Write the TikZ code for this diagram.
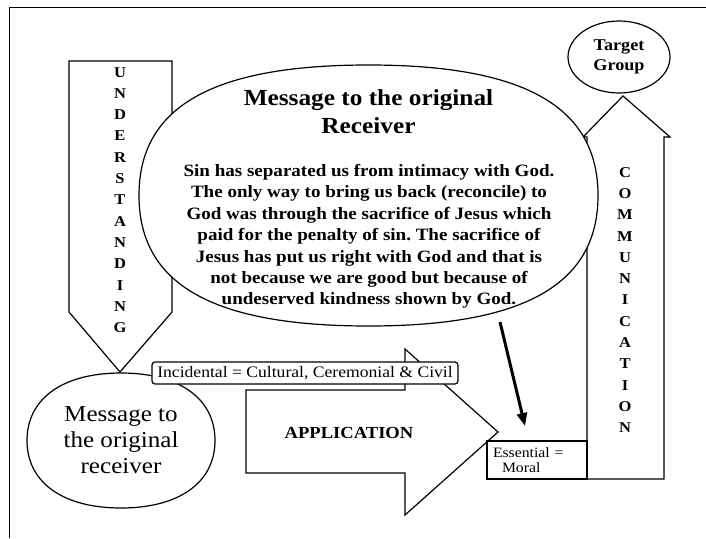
\documentclass[tikz,border=0pt]{standalone}
\usepackage{fontspec}
\setmainfont{Liberation Serif}[FakeStretch=1.1]
\usetikzlibrary{arrows.meta,shapes.geometric}
\tikzset{
  outline/.style={draw,line width=1.2pt,fill=white},
  lettering/.style={align=center,inner sep=0pt,font=\bfseries\fontsize{15}{21.3}\selectfont},
}
\frenchspacing
\begin{document}
\begin{tikzpicture}[x=1pt,y=-1pt]
       \useasboundingbox (0,0) rectangle (706,538);
       \draw [line width=1pt] (9,538) -- (9,7) -- (706,7);
       \draw [outline]
          (69,61) -- (172,61) -- (172,312) -- (120,372) -- (69,312) -- cycle;
       \draw [outline]
          (587,479) -- (587,137) -- (583,137) -- (623,96) -- (670,137)
          -- (664,137) -- (664,479) -- cycle;
       \draw [outline]
          (139,195.5) .. controls (139,106.8) and (212.4,65) .. (368.5,65)
          .. controls (524.6,65) and (598,106.8) .. (598,195.5)
          .. controls (598,284.2) and (524.6,326) .. (368.5,326)
          .. controls (212.4,326) and (139,284.2) .. (139,195.5) -- cycle;
       \draw [outline]
          (27,440.5) .. controls (27,398.6) and (62.7,373) .. (121,373)
          .. controls (179.3,373) and (215,398.6) .. (215,440.5)
          .. controls (215,482.4) and (179.3,508) .. (121,508)
          .. controls (62.7,508) and (27,482.4) .. (27,440.5) -- cycle;
       \draw [outline]
          (246,390) -- (405,390) -- (405,349) -- (498,432) -- (405,515)
          -- (405,473) -- (246,473) -- cycle;
       \node at (619,57) [outline,ellipse,minimum width=102,minimum height=72,inner sep=0pt,
          align=center,font=\bfseries\fontsize{16.5}{20}\selectfont] (target) {Target\\Group};
       \node at (305,373) [outline,rounded corners=3pt,minimum width=306,minimum height=22,
          inner sep=0pt,font=\fontsize{16}{16}\selectfont] (incidental)
          {Incidental = Cultural, Ceremonial \& Civil};
       \node at (537,460) [outline,minimum width=100,minimum height=38,inner xsep=6pt,
          inner ysep=0pt,text width=88,align=left,font=\fontsize{14.3}{15}\selectfont] (essential)
          {Essential =\\\hspace*{9pt}Moral};
       \node at (120,67) [lettering,anchor=north] (understanding)
          {U\\N\\D\\E\\R\\S\\T\\A\\N\\D\\I\\N\\G};
       \node at (625,167) [lettering,anchor=north] (communication)
          {C\\O\\M\\M\\U\\N\\I\\C\\A\\T\\I\\O\\N};
       \node at (368.5,89.3) [anchor=north,inner sep=0pt,align=center,
          font=\bfseries\fontsize{23}{28}\selectfont] (title)
          {Message to the original\\Receiver};
       \node at (369,164.2) [anchor=north,inner sep=0pt,align=center,
          font=\bfseries\fontsize{17.3}{21.4}\selectfont] (message)
          {Sin has separated us from intimacy with God.\\
           The only way to bring us back (reconcile) to\\
           God was through the sacrifice of Jesus which\\
           paid for the penalty of sin. The sacrifice of\\
           Jesus has put us right with God and that is\\
           not because we are good but because of\\
           undeserved kindness shown by God.};
       \node at (121,406.5) [anchor=north,inner sep=0pt,align=center,
          font=\fontsize{22.8}{26}\selectfont] (receiver)
          {Message to\\the original\\receiver};
       \node at (349,432.5) [inner sep=0pt,font=\bfseries\fontsize{16.9}{20}\selectfont]
          (application) {APPLICATION};
       \coordinate (msgfoot) at (500,322);
       \coordinate (msgend) at (525,426);
       \draw [line width=3pt,-{Triangle[length=13pt,width=10pt]}] (msgfoot) -- (msgend);
      \end{tikzpicture}
\end{document}
